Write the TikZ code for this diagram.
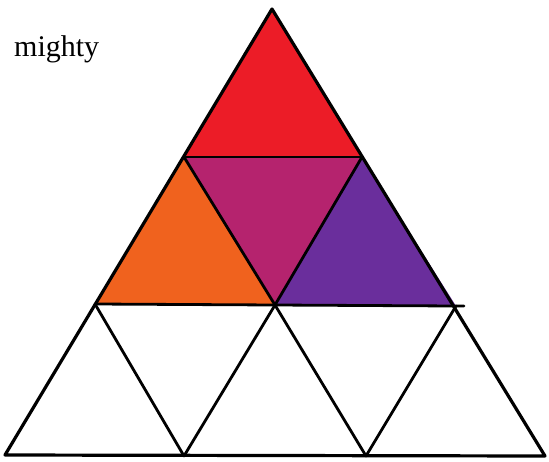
\documentclass[tikz,border=0pt]{standalone}
\usepackage{fontspec}
\setmainfont{Liberation Serif}
\definecolor{cred}{HTML}{EC1C27}
\definecolor{cmag}{HTML}{B5236E}
\definecolor{corange}{HTML}{F0621E}
\definecolor{cpurple}{HTML}{6A2E9C}
\tikzset{
  tri/.style={draw=black, line width=3.2pt, line join=round},
  edge/.style={draw=black, line width=2.8pt, line cap=round}
}
\begin{document}
\begin{tikzpicture}[x=1pt,y=-1pt]
\useasboundingbox (0,0) rectangle (549,461);
% vertices
\coordinate (A)  at (272,9);
\coordinate (B1) at (184,157);
\coordinate (B2) at (362,157);
\coordinate (C1) at (95,304);
\coordinate (C2) at (275,305);
\coordinate (C3) at (456,306);
\coordinate (D1) at (5,455);
\coordinate (D2) at (184,456);
\coordinate (D3) at (366,456);
\coordinate (D4) at (545,456);
% coloured triangles
\fill[cred] (A) -- (B1) -- (B2) -- cycle;
\fill[corange] (B1) -- (C1) -- (C2) -- cycle;
\fill[cmag] (B1) -- (B2) -- (C2) -- cycle;
\fill[cpurple] (B2) -- (C2) -- (C3) -- cycle;
% lines
\draw[tri] (A) -- (D1) -- (D4) -- cycle;
\draw[edge] (B1) -- (B2);
\draw[edge] (C1) -- (C3) -- ++(8,0);
\draw[edge] (B1) -- (C2) -- (D3);
\draw[edge] (B2) -- (C2) -- (D2);
\draw[edge] (C1) -- (D2);
\draw[edge] (C3) -- (D3);
% label
\node[anchor=base west, font=\fontsize{30}{35}\selectfont, inner sep=0pt] (lbl) at (14,56) {mighty};
\end{tikzpicture}
\end{document}
